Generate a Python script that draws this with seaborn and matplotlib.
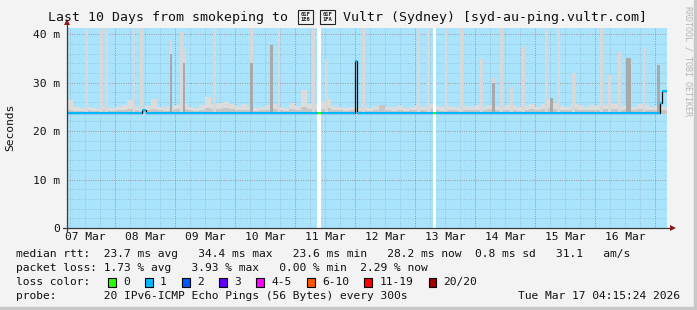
import numpy as np
import pandas as pd
import matplotlib
matplotlib.use("Agg")
import matplotlib.pyplot as plt
from matplotlib.patches import Rectangle
from matplotlib.lines import Line2D
import seaborn as sns

# ------------------------------------------------------------------ data
day_labels = ["07 Mar", "08 Mar", "09 Mar", "10 Mar", "11 Mar",
              "12 Mar", "13 Mar", "14 Mar", "15 Mar", "16 Mar"]
t_start = 0.195          # days since 07 Mar 00:00
t_end = 10.195
smoke_bin = 0.1          # days per smoke bin

# upper edge of the light smoke (ms), one value per bin
smoke_top = [
    26.4, 24.9, 24.7, 25.0, 24.8, 24.6, 24.9, 24.7, 24.9, 25.3,
    26.5, 24.9, 24.8, 25.2, 26.6, 25.0, 24.9, 25.1, 25.4, 25.6,
    25.0, 24.8, 25.3, 27.0, 25.5, 25.8, 26.0, 25.6, 25.2, 25.5,
    25.0, 24.8, 25.0, 25.3, 25.5, 25.0, 24.8, 25.7, 25.2, 28.5,
    25.5, 25.3, 26.0, 26.6, 25.2, 24.9, 24.8, 24.9, 24.7, 25.0,
    24.8, 25.1, 25.4, 25.0, 24.9, 25.2, 24.8, 25.0, 25.3, 25.0,
    25.6, 25.1, 24.9, 25.2, 25.0, 24.8, 25.1, 25.0, 25.3, 25.0,
    25.4, 25.2, 25.0, 25.3, 25.1, 24.9, 25.2, 25.5, 25.0, 25.6,
    26.4, 25.8, 25.2, 25.0, 25.5, 25.3, 25.0, 25.3, 25.1, 25.4,
    25.8, 25.6, 25.2, 25.4, 25.0, 25.5, 25.3, 25.0, 25.2, 25.0]
# upper edge of the denser smoke (ms)
smoke_core = [
    24.4, 24.2, 24.2, 24.3, 24.2, 24.2, 24.3, 24.2, 24.3, 24.4,
    24.5, 24.3, 24.2, 24.4, 24.6, 24.3, 24.2, 24.3, 24.5, 24.6,
    24.3, 24.2, 24.4, 24.8, 24.5, 24.6, 24.7, 24.5, 24.3, 24.4,
    24.3, 24.2, 24.3, 24.4, 24.5, 24.3, 24.2, 24.5, 24.3, 25.0,
    24.5, 24.4, 24.6, 24.8, 24.4, 24.3, 24.2, 24.3, 24.2, 24.3,
    24.2, 24.3, 25.4, 24.3, 24.2, 24.4, 24.2, 24.3, 24.4, 24.3,
    24.5, 24.3, 24.2, 24.4, 24.3, 24.2, 24.3, 24.3, 24.4, 24.3,
    24.5, 24.4, 24.3, 24.4, 24.3, 24.2, 24.4, 24.5, 24.3, 24.6,
    24.8, 24.6, 24.4, 24.3, 24.5, 24.4, 24.3, 24.4, 24.3, 24.5,
    24.6, 24.5, 24.4, 24.5, 24.3, 24.5, 24.4, 24.3, 24.4, 24.3]

# isolated high ping spikes: time (days), light top (ms), dense top (ms, 0 = none)
spike_t = [0.528, 0.778, 0.862, 1.317, 1.445, 1.933, 2.112, 2.150, 2.655,
           3.278, 3.612, 3.730, 4.305, 4.528, 5.138, 6.055, 6.222, 6.517,
           6.778, 7.112, 7.305, 7.445, 7.612, 7.805, 8.195, 8.278, 8.388,
           8.638, 9.112, 9.238, 9.405, 9.530, 9.575, 9.817, 10.060]
spike_top = [45, 45, 45, 45, 45, 38.8, 40.5, 37.0, 45,
             45, 37.7, 45, 45, 34.8, 45, 45, 45, 45,
             45, 34.8, 31.0, 45, 29.0, 37.4, 45, 26.8, 45,
             32.0, 45, 31.5, 36.3, 35.1, 35.1, 37.1, 33.6]
spike_core = [0, 0, 0, 0, 0, 36.0, 0, 34.0, 0,
              34.0, 37.7, 0, 0, 0, 0, 0, 0, 0,
              0, 0, 30.0, 0, 0, 0, 0, 26.8, 0,
              0, 0, 0, 0, 35.1, 35.1, 0, 33.6]

# median rtt (step function) and packet loss class per step
med_t = [0.195, 1.455, 1.517, 4.383, 4.433, 5.008, 5.038, 6.300, 6.350, 10.083, 10.120]
med_v = [23.7, 24.4, 23.7, 23.7, 23.7, 34.4, 23.7, 23.7, 23.7, 25.8, 28.2]
med_loss = [1, 1, 1, 0, 1, 1, 1, 0, 1, 1, 1]

# periods without data
gap_start = [4.362, 6.295]
gap_end = [4.428, 6.350]

loss_labels = ["0", "1", "2", "3", "4-5", "6-10", "11-19", "20/20"]
loss_colors = ["#26ff00", "#00b8ff", "#0059ff", "#5e00ff",
               "#ff00ff", "#ff5500", "#ff0000", "#a00000"]

rtt_avg, rtt_max, rtt_min, rtt_now, rtt_sd, rtt_am = 23.7, 34.4, 23.6, 28.2, 0.8, 31.1
loss_avg, loss_max, loss_min, loss_now = 1.73, 3.93, 0.00, 2.29

title_left = "Last 10 Days from smokeping to "
title_flag = ["01F\n1E6", "01F\n1FA"]   # regional indicators A, U (no installed glyph)
title_right = " Vultr (Sydney) [syd-au-ping.vultr.com]"

# ------------------------------------------------------------------ style
sns.set_style("white")
plt.rcParams["font.family"] = ["DejaVu Sans Mono", "DejaVu Sans"]
W, H = 697, 310
MONO = 8.1
fig = plt.figure(figsize=(W / 100, H / 100), dpi=100)
fig.patch.set_facecolor("#f3f3f3")

def fx(px):
    return px / W

def fy(py):
    return 1 - py / H

# frame
fig.patches.append(Rectangle((0, 0), 1, 3 / H, transform=fig.transFigure,
                             color="#c8c8c8", zorder=0))
fig.patches.append(Rectangle((fx(694), 0), 3 / W, 1, transform=fig.transFigure,
                             color="#c8c8c8", zorder=0))

x0, x1, ytop, ybot = 66.7, 666.7, 28.3, 228.0
ax = fig.add_axes([fx(x0), fy(ybot), (x1 - x0) / W, (ybot - ytop) / H])
ax.set_facecolor("white")
for s in ax.spines.values():
    s.set_visible(False)

BLUE_BG = "#a9e4fc"
# background where data is known
known_edges = [t_start] + [v for pair in zip(gap_start, gap_end) for v in pair] + [t_end]
for a, b in zip(known_edges[0::2], known_edges[1::2]):
    ax.axvspan(a, b, color=BLUE_BG, lw=0, zorder=0.8)

# smoke
bins = t_start + smoke_bin * np.arange(len(smoke_top))
base = 23.6
ax.bar(bins, np.array(smoke_top) - base, bottom=base, width=smoke_bin, align="edge",
       color="#dcdcdc", lw=0, zorder=2)
ax.bar(bins, np.array(smoke_core) - base, bottom=base, width=smoke_bin, align="edge",
       color="#c6c6c6", lw=0, zorder=2.05)
st = np.array(spike_t)
ax.bar(st, np.array(spike_top) - base, bottom=base, width=0.042,
       color="#d8d8d8", lw=0, zorder=2.1)
core = np.array(spike_core)
has_core = core > 0
ax.bar(st[has_core], core[has_core] - base, bottom=base, width=0.042,
       color="#a9a9a9", lw=0, zorder=2.15)

# gaps drawn white over the smoke
for a, b in zip(gap_start, gap_end):
    ax.axvspan(a, b, color="white", lw=0, zorder=2.3)

# median line
med_df = pd.DataFrame({"t": med_t + [t_end], "v": med_v + [med_v[-1]]})
sns.lineplot(data=med_df, x="t", y="v", ax=ax, drawstyle="steps-post",
             color="#111111", lw=0.9, estimator=None, sort=False, zorder=3)
seg_end = med_t[1:] + [t_end]
ax.hlines(med_v, med_t, seg_end, colors=[loss_colors[l] for l in med_loss],
          lw=1.5, zorder=3.2)
ax.set_xlabel("")
ax.set_ylabel("")

# limits, ticks, grids (after plotting so autoscaling cannot move them)
ax.set_axisbelow("line")
ax.set_xticks(np.arange(0, 11, 0.25), minor=True)
ax.xaxis.remove_overlapping_locs = False
ax.set_xticks(np.arange(len(day_labels)) + 0.5, day_labels)
ax.set_yticks(np.arange(0, 41, 2), minor=True)
ax.yaxis.remove_overlapping_locs = False
ax.set_yticks([0, 10, 20, 30, 40], ["0", "10 m", "20 m", "30 m", "40 m"])
ax.set_xlim(t_start, t_end)
ax.set_ylim(0, 41.2)
grey_grid = dict(color="#7a7a7a", alpha=0.4, lw=0.7, ls=(0, (0.8, 1.6)))
red_grid = dict(color="#e03c3c", alpha=0.45, lw=0.7, ls=(0, (0.8, 1.6)))
ax.grid(True, which="minor", axis="both", **grey_grid)
ax.grid(False, which="major", axis="x")
ax.grid(True, which="major", axis="y", **red_grid)
for d in range(1, 11):
    ax.axvline(d, zorder=1.6, **red_grid)

ax.tick_params(axis="x", which="major", length=0, pad=3.2, labelsize=MONO, labelcolor="#111")
ax.tick_params(axis="x", which="minor", length=1.5, color="#999", direction="out")
ax.tick_params(axis="y", which="both", length=1.5, color="#999", direction="out")
ax.tick_params(axis="y", which="major", pad=3.2, labelsize=MONO, labelcolor="#111", color="#d07070")

# axes lines and arrows
axis_col = "#3a3a3a"
arrow_col = "#8b1a1a"
ax.add_line(Line2D([-0.006, 1.009], [0, 0], transform=ax.transAxes, color=axis_col,
                   lw=0.9, clip_on=False, zorder=4))
ax.add_line(Line2D([0, 0], [-0.015, 1.025], transform=ax.transAxes, color=axis_col,
                   lw=0.9, clip_on=False, zorder=4))
ax.plot([1.011], [0], marker=">", ms=4.5, color=arrow_col, transform=ax.transAxes,
        clip_on=False, zorder=5, mew=0)
ax.plot([0], [1.03], marker="^", ms=4.5, color=arrow_col, transform=ax.transAxes,
        clip_on=False, zorder=5, mew=0)

# title: text, two "missing glyph" boxes (as rendered in the reference), text
TITLE = 9.57
fig.text(fx(48), fy(17), title_left, ha="left", va="center", fontsize=TITLE, color="#111")
bx = 298.0
for code in title_flag:
    fig.patches.append(Rectangle((fx(bx), fy(23.5)), 15 / W, 13 / H, transform=fig.transFigure,
                                 facecolor="none", edgecolor="#222", lw=0.8, zorder=3))
    fig.text(fx(bx + 7.5), fy(17), code, ha="center", va="center", fontsize=4.0,
             linespacing=0.95, color="#222", fontweight="bold")
    bx += 22.0
fig.text(fx(335), fy(17), title_right, ha="left", va="center", fontsize=TITLE, color="#111")

fig.text(fx(10), fy(127), "Seconds", rotation=90, ha="center", va="center",
         fontsize=MONO, color="#111")
fig.text(fx(688), fy(61), "RRDTOOL / TOBI OETIKER", rotation=270, ha="center",
         va="center", fontsize=6.0, color="#b5b5b5")

lx = fx(16)
line1 = (f"median rtt:  {rtt_avg:.1f} ms avg   {rtt_max:.1f} ms max   {rtt_min:.1f} ms min"
         f"   {rtt_now:.1f} ms now  {rtt_sd:.1f} ms sd   {rtt_am:.1f}   am/s")
line2 = (f"packet loss: {loss_avg:.2f} % avg   {loss_max:.2f} % max   {loss_min:.2f} % min"
         f"  {loss_now:.2f} % now")
fig.text(lx, fy(254.3), line1, ha="left", va="center", fontsize=MONO, color="#111")
fig.text(lx, fy(268.3), line2, ha="left", va="center", fontsize=MONO, color="#111")
fig.text(lx, fy(282.3), "loss color:", ha="left", va="center", fontsize=MONO, color="#111")
cx = 108.0
for lab, col in zip(loss_labels, loss_colors):
    fig.patches.append(Rectangle((fx(cx), fy(286.8)), 7.7 / W, 9 / H,
                                 transform=fig.transFigure, facecolor=col,
                                 edgecolor="black", lw=0.8, zorder=3))
    fig.text(fx(cx + 15), fy(282.3), lab, ha="left", va="center", fontsize=MONO, color="#111")
    cx += (len(lab) + 4.45) * 6.8
fig.text(lx, fy(296.3), "probe:       20 IPv6-ICMP Echo Pings (56 Bytes) every 300s",
         ha="left", va="center", fontsize=MONO, color="#111")
fig.text(fx(680), fy(296.3), "Tue Mar 17 04:15:24 2026", ha="right", va="center",
         fontsize=MONO, color="#111")

fig.savefig("out.png", dpi=100, facecolor=fig.get_facecolor())
